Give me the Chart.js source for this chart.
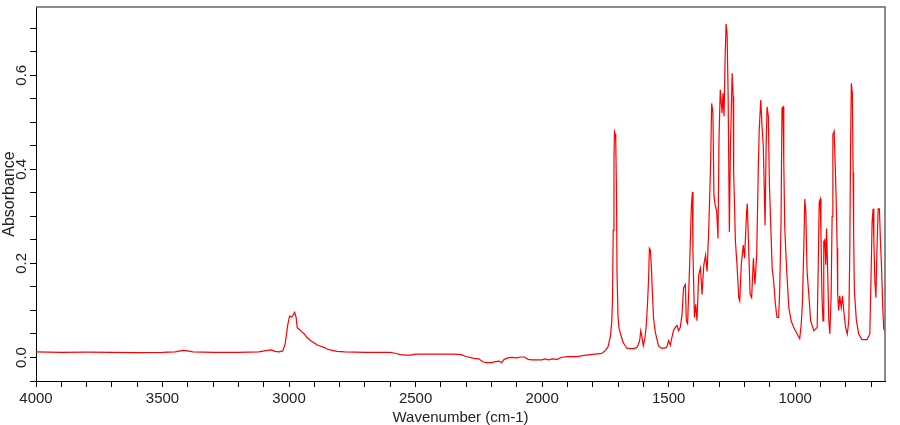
<!DOCTYPE html>
<html>
<head>
<meta charset="utf-8">
<script src="https://cdn.jsdelivr.net/npm/chart.js@4.4.0/dist/chart.umd.min.js"></script>
<style>
  body { margin: 0; background: #fff; }
  #wrap { width: 900px; height: 425px; }
</style>
</head>
<body>
<div id="wrap"><canvas id="spectrum"></canvas></div>
<script>
// wavenumber (cm-1) and absorbance
const wavenumber = [
  4000, 3900, 3800, 3700, 3600, 3500, 3450, 3420, 3400, 3380, 3300, 3200, 3120, 3085, 3070, 3055, 3040, 3025,
  3015, 3005, 2998, 2990, 2984, 2978, 2972, 2968, 2960, 2950, 2940, 2930, 2915, 2900, 2890, 2875, 2860, 2850,
  2830, 2810, 2780, 2700, 2650, 2600, 2580, 2560, 2540, 2520, 2500, 2450, 2400, 2350, 2320, 2300, 2270, 2250,
  2235, 2220, 2200, 2185, 2170, 2160, 2150, 2135, 2120, 2100, 2085, 2070, 2055, 2040, 2000, 1990, 1975, 1960,
  1940, 1925, 1900, 1860, 1840, 1810, 1790, 1770, 1760, 1750, 1740, 1730, 1725, 1722, 1719, 1716, 1714, 1711,
  1709, 1706, 1704, 1700, 1696, 1690, 1686, 1680, 1673, 1665, 1650, 1635, 1624, 1615, 1610, 1606, 1600, 1594,
  1588, 1583, 1579, 1576, 1572, 1568, 1565, 1560, 1553, 1547, 1540, 1530, 1515, 1507, 1500, 1493, 1487, 1481,
  1474, 1467, 1461, 1454, 1447, 1441, 1434, 1430, 1425, 1417, 1410, 1406, 1404, 1398, 1393, 1388, 1381, 1374,
  1368, 1361, 1354, 1348, 1341, 1334, 1330, 1325, 1321, 1317, 1310, 1305, 1301, 1296, 1289, 1285, 1281, 1277,
  1273, 1269, 1265, 1260, 1256, 1249, 1245, 1243, 1236, 1229, 1223, 1219, 1213, 1205, 1200, 1192, 1189, 1185,
  1178, 1172, 1165, 1159, 1152, 1146, 1142, 1136, 1131, 1126, 1119, 1115, 1111, 1106, 1102, 1096, 1091, 1085,
  1078, 1072, 1065, 1061, 1056, 1052, 1048, 1045, 1041, 1034, 1025, 1016, 1006, 992, 982, 976, 971, 966,
  962, 958, 953, 946, 939, 926, 913, 909, 905, 901, 898, 894, 890, 887, 883, 879, 876, 871,
  867, 863, 858, 854, 851, 846, 842, 838, 834, 832, 828, 824, 818, 813, 808, 801, 794, 788,
  784, 781, 778, 774, 771, 769, 766, 758, 749, 736, 716, 705, 700, 696, 692, 689, 685, 681,
  676, 672, 667, 663, 659, 654, 650, 646
]
const absorbance = [
  0.012, 0.011, 0.0115, 0.011, 0.0105, 0.011, 0.012, 0.015, 0.014, 0.012, 0.011, 0.011, 0.012, 0.015, 0.016, 0.013, 0.012, 0.014,
  0.03, 0.07, 0.088, 0.086, 0.09, 0.096, 0.085, 0.064, 0.06, 0.055, 0.05, 0.043, 0.036, 0.031, 0.027, 0.024, 0.021, 0.018,
  0.015, 0.013, 0.012, 0.011, 0.011, 0.011, 0.009, 0.006, 0.005, 0.005, 0.007, 0.007, 0.007, 0.007, 0.006, 0.002, -0.002, -0.003,
  -0.009, -0.011, -0.011, -0.009, -0.008, -0.011, -0.004, -0.001, 0.0, -0.001, 0.001, 0.001, -0.004, -0.005, -0.005, -0.003, -0.005, -0.003,
  -0.004, 0.0, 0.002, 0.002, 0.004, 0.006, 0.007, 0.008, 0.010, 0.015, 0.022, 0.045, 0.075, 0.12, 0.27, 0.42, 0.48, 0.475,
  0.46, 0.35, 0.18, 0.085, 0.062, 0.05, 0.043, 0.032, 0.026, 0.02, 0.019, 0.019, 0.022, 0.035, 0.057, 0.045, 0.025, 0.04,
  0.07, 0.12, 0.17, 0.232, 0.228, 0.19, 0.148, 0.085, 0.055, 0.04, 0.025, 0.02, 0.02, 0.022, 0.036, 0.026, 0.043, 0.057,
  0.064, 0.068, 0.057, 0.064, 0.092, 0.148, 0.155, 0.078, 0.072, 0.197, 0.324, 0.352, 0.225, 0.085, 0.113, 0.078, 0.176, 0.19,
  0.134, 0.197, 0.218, 0.183, 0.281, 0.414, 0.54, 0.52, 0.345, 0.327, 0.31, 0.253, 0.463, 0.569, 0.52, 0.562, 0.513, 0.632,
  0.709, 0.688, 0.562, 0.267, 0.442, 0.604, 0.555, 0.393, 0.246, 0.19, 0.127, 0.12, 0.197, 0.239, 0.211, 0.309, 0.327, 0.253,
  0.134, 0.127, 0.211, 0.155, 0.218, 0.393, 0.484, 0.547, 0.492, 0.45, 0.281, 0.442, 0.533, 0.513, 0.372, 0.274, 0.19, 0.162,
  0.113, 0.085, 0.085, 0.148, 0.281, 0.53, 0.533, 0.414, 0.274, 0.19, 0.106, 0.078, 0.064, 0.05, 0.04, 0.071, 0.12, 0.232,
  0.337, 0.31, 0.183, 0.134, 0.078, 0.057, 0.064, 0.19, 0.33, 0.337, 0.26, 0.127, 0.078, 0.246, 0.25, 0.197, 0.274, 0.169,
  0.078, 0.05, 0.127, 0.3, 0.474, 0.481, 0.414, 0.337, 0.232, 0.134, 0.1, 0.131, 0.106, 0.131, 0.1, 0.064, 0.05, 0.078,
  0.232, 0.45, 0.583, 0.561, 0.393, 0.267, 0.141, 0.078, 0.05, 0.038, 0.038, 0.05, 0.176, 0.288, 0.316, 0.246, 0.162, 0.127,
  0.246, 0.316, 0.316, 0.246, 0.197, 0.106, 0.061, 0.057
]

const xMin = 645
const xMax = 4000
const yMin = -0.05
const yMax = 0.745
const xLabelStep = 500
const yLabelStep = 0.2

const points = wavenumber.map((w, i) => ({ x: w, y: absorbance[i] }))

// top and right edge of the frame are grey in the original
const frame = {
    id: 'frame',
    afterDraw(chart) {
        const { ctx, chartArea } = chart
        ctx.save()
        ctx.strokeStyle = '#666'
        ctx.lineWidth = 1.5
        ctx.beginPath()
        ctx.moveTo(chartArea.left, chartArea.top)
        ctx.lineTo(chartArea.right, chartArea.top)
        ctx.lineTo(chartArea.right, chartArea.bottom)
        ctx.stroke()
        ctx.restore()
    }
}

const font = { family: "'Liberation Sans', Arial, sans-serif", size: 15 }

const chart = new Chart(document.getElementById('spectrum'), {
    type: 'line',
    data: {
        datasets: [{
            data: points,
            borderColor: '#ff0000',
            borderWidth: 1.2,
            pointRadius: 0,
            tension: 0,
            fill: false
        }]
    },
    options: {
        responsive: true,
        maintainAspectRatio: false,
        animation: false,
        parsing: false,
        layout: { padding: { top: 3, right: 15, left: 0, bottom: 0 } },
        plugins: {
            legend: { display: false },
            tooltip: { enabled: false }
        },
        scales: {
            x: {
                type: 'linear',
                reverse: true,
                min: xMin,
                max: xMax,
                afterFit: (scale) => { scale.height = 44 },
                grid: { drawOnChartArea: false, color: '#000', tickLength: 6 },
                border: { color: '#000', width: 1 },
                ticks: {
                    stepSize: 100,
                    includeBounds: false,
                    autoSkip: false,
                    maxRotation: 0,
                    padding: 3,
                    color: '#222',
                    font: font,
                    callback: (v) => (v % xLabelStep === 0 ? String(v) : '')
                },
                title: {
                    display: true,
                    text: 'Wavenumber (cm-1)',
                    color: '#222',
                    font: { ...font, lineHeight: 1 },
                    padding: { top: 0, bottom: 0 }
                }
            },
            y: {
                min: yMin,
                max: yMax,
                afterFit: (scale) => { scale.width = 36 },
                grid: { drawOnChartArea: false, color: '#000', tickLength: 6 },
                border: { color: '#000', width: 1 },
                ticks: {
                    stepSize: 0.05,
                    includeBounds: false,
                    autoSkip: false,
                    minRotation: 90,
                    maxRotation: 90,
                    crossAlign: 'center',
                    padding: -2,
                    color: '#222',
                    font: font,
                    callback: (v) => {
                        const r = v / yLabelStep
                        return Math.abs(r - Math.round(r)) < 1e-6 ? v.toFixed(1) : ''
                    }
                },
                title: {
                    display: true,
                    text: 'Absorbance',
                    color: '#222',
                    font: { ...font, size: 16, lineHeight: 1.15 },
                    padding: { top: 0, bottom: 0 }
                }
            }
        }
    },
    plugins: [frame]
})
</script>
</body>
</html>
